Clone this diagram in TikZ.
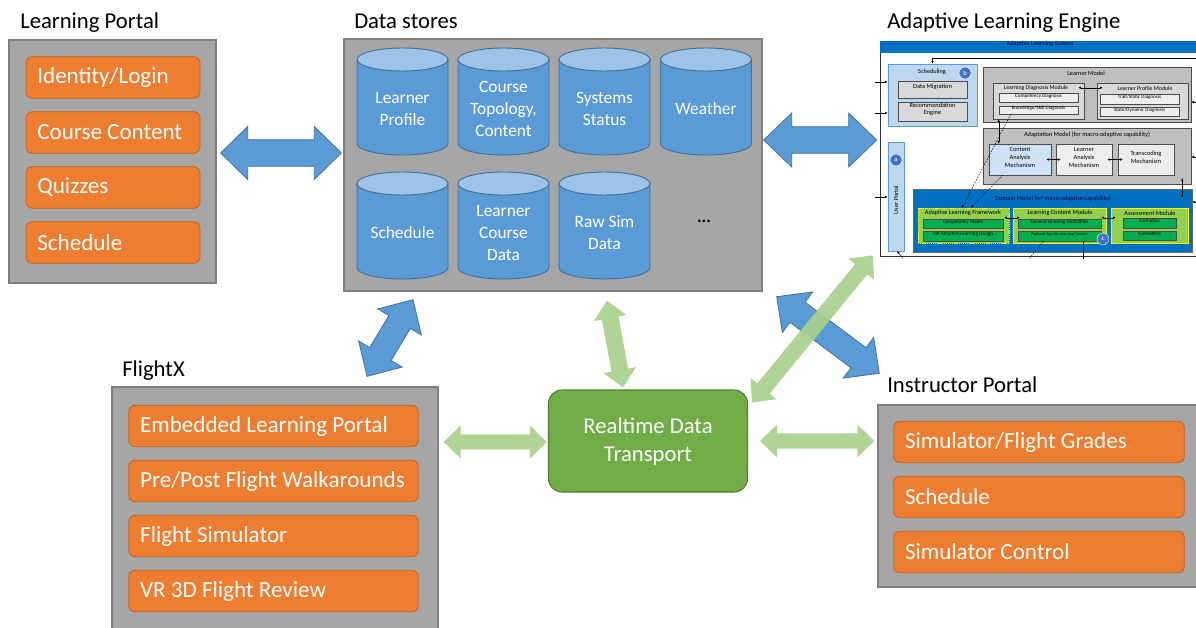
\documentclass[tikz,border=0pt]{standalone}
\usepackage{fontspec}
\setmainfont{Carlito}
\usetikzlibrary{calc,fit,arrows.meta,positioning}

\definecolor{panelgray}{RGB}{166,166,166}
\definecolor{paneledge}{RGB}{127,127,127}
\definecolor{itemorange}{RGB}{237,125,49}
\definecolor{itemedge}{RGB}{196,98,32}
\definecolor{dbblue}{RGB}{91,155,213}
\definecolor{dbedge}{RGB}{65,113,156}
\definecolor{dblight}{RGB}{157,195,230}
\definecolor{rtgreen}{RGB}{112,173,71}
\definecolor{rtedge}{RGB}{80,126,50}
\definecolor{linkgreen}{RGB}{169,209,142}
\definecolor{alsblue}{RGB}{0,112,192}
\definecolor{alslight}{RGB}{189,215,238}
\definecolor{alspale}{RGB}{205,227,245}
\definecolor{almgray}{RGB}{191,191,191}
\definecolor{almlight}{RGB}{217,217,217}
\definecolor{almwhite}{RGB}{237,237,237}
\definecolor{alfgreen}{RGB}{146,208,80}
\definecolor{alfdark}{RGB}{0,176,80}
\definecolor{alscircle}{RGB}{68,114,196}

\tikzset{
  boxsize/.style 2 args={minimum width=#1*0.75pt, minimum height=#2*0.75pt},
  panel/.style={draw=paneledge, fill=panelgray, line width=1pt, inner sep=0pt},
  heading/.style={anchor=base west, inner sep=0pt, font=\fontsize{17}{20}\selectfont},
  item/.style={draw=itemedge, fill=itemorange, line width=0.6pt, rounded corners=4.5pt,
    text=white, font=\fontsize{17.3}{20}\selectfont, align=flush left,
    inner xsep=8.5pt, inner ysep=0pt, minimum height=31pt, text width=#1},
  dbtext/.style={text=white, font=\fontsize{13}{16.5}\selectfont, align=center, inner sep=0pt},
  dbbody/.style={fill=dbblue, draw=dbedge, line width=0.7pt},
  dbtop/.style={fill=dblight, draw=dbedge, line width=0.7pt},
  hub/.style={draw=rtedge, fill=rtgreen, line width=0.8pt, rounded corners=10pt,
    text=white, font=\fontsize{17}{21}\selectfont, align=center, inner sep=0pt},
  bluelink/.style={fill=dbblue, draw=dbedge, line width=0.6pt},
  greenlink/.style={fill=linkgreen, draw=none, fill opacity=0.92},
  % tiny engine sketch
  alebox/.style={draw=black!70, line width=0.35pt, inner sep=0pt, align=center,
    font=\fontsize{4.8}{5.8}\selectfont},
  alesub/.style={alebox, font=\fontsize{3.8}{4.4}\selectfont},
  aletitle/.style={inner sep=0pt, font=\fontsize{4.7}{5.6}\selectfont},
  alemark/.style={circle, fill=alscircle, draw=white, line width=0.3pt, minimum size=9pt,
    inner sep=0pt, text=white, font=\fontsize{5}{6}\selectfont},
  aleline/.style={line width=0.35pt, black},
  alearr/.style={aleline, {Latex[length=2pt,width=1.8pt]}-{Latex[length=2pt,width=1.8pt]}},
  aletip/.style={aleline, -{Latex[length=2pt,width=1.8pt]}},
  aledash/.style={aletip, dash pattern=on 1.2pt off 1pt}
}

% wide two-headed arrow: style, tip, tip, shaft half width, head half width, head length
\newcommand{\fatarrow}[6]{%
  \filldraw[#1] (#2) -- ($(#2)!#6!(#3)!#5!90:(#3)$) -- ($(#2)!#6!(#3)!#4!90:(#3)$)
    -- ($(#3)!#6!(#2)!#4!-90:(#2)$) -- ($(#3)!#6!(#2)!#5!-90:(#2)$) -- (#3)
    -- ($(#3)!#6!(#2)!#5!90:(#2)$) -- ($(#3)!#6!(#2)!#4!90:(#2)$)
    -- ($(#2)!#6!(#3)!#4!-90:(#3)$) -- ($(#2)!#6!(#3)!#5!-90:(#3)$) -- cycle;
}

% drum: name, centre x, top y, text
\newcommand{\dbstore}[4]{%
  \filldraw[dbbody] (#2-45.5,#3+11.5) -- (#2-45.5,#3+95.5)
    arc[start angle=180, end angle=0, x radius=45.5, y radius=11.5]
    -- (#2+45.5,#3+11.5) -- cycle;
  \filldraw[dbtop] (#2,#3+11.5) ellipse[x radius=45.5, y radius=11.5];
  \node[dbtext] (#1) at (#2,#3+61) {#4};
}

\begin{document}
\begin{tikzpicture}[x=0.75pt, y=-0.75pt]
  \useasboundingbox (0,0) rectangle (1196,628);
  \fill[white] (0,0) rectangle (1196,628);

  %panels
  \node[panel, boxsize={207}{243}] (lp) at (112.5,161.5) {};
  \node[panel, boxsize={418}{252}] (ds) at (553,165) {};
  \node[panel, boxsize={326}{253}] (fx) at (275,513.5) {};
  \node[panel, boxsize={322}{182}] (ip) at (1039,496) {};

  %headings
  \node[heading] (lp-title) at (20,28) {Learning Portal};
  \node[heading] (ds-title) at (354,28) {Data stores};
  \node[heading] (ale-title) at (887,28) {Adaptive Learning Engine};
  \node[heading] (fx-title) at (122,376) {FlightX};
  \node[heading] (ip-title) at (887,392) {Instructor Portal};

  %learning portal
  \node[item=113.5pt] (lp-login) at (113,77.5) {Identity/Login};
  \node[item=113.5pt] (lp-content) at (113,132.5) {Course Content};
  \node[item=113.5pt] (lp-quiz) at (113,187.5) {Quizzes};
  \node[item=113.5pt] (lp-sched) at (113,242.5) {Schedule};

  %data stores
  \dbstore{ds-profile}{402.5}{48}{Learner\\Profile}
  \dbstore{ds-topology}{503.5}{48}{Course\\Topology,\\Content}
  \dbstore{ds-status}{604.5}{48}{Systems\\Status}
  \dbstore{ds-weather}{706}{48}{Weather}
  \dbstore{ds-schedule}{402.5}{172}{Schedule}
  \dbstore{ds-coursedata}{503.5}{172}{Learner\\Course\\Data}
  \dbstore{ds-rawsim}{604.5}{172}{Raw Sim\\Data}
  \node[inner sep=0pt, font=\fontsize{13}{15}\selectfont\bfseries] (ds-more) at (704,221) {...};

  %flightx
  \node[item=200pt] (fx-portal) at (273.5,426) {Embedded Learning Portal};
  \node[item=200pt] (fx-walk) at (273.5,481) {Pre/Post Flight Walkarounds};
  \node[item=200pt] (fx-sim) at (273.5,536) {Flight Simulator};
  \node[item=200pt] (fx-vr) at (273.5,591) {VR 3D Flight Review};

  %instructor portal
  \node[item=201pt] (ip-grades) at (1039,442) {Simulator/Flight Grades};
  \node[item=201pt] (ip-sched) at (1039,497) {Schedule};
  \node[item=201pt] (ip-ctrl) at (1039,552) {Simulator Control};

  %realtime hub
  \node[hub, boxsize={199}{102}] (rt) at (648,441) {Realtime Data\\Transport};

  %adaptive learning engine
  \node[fill=white, draw=black!80, line width=0.5pt, inner sep=0pt, fit={(880,41) (1200,256)}] (ale) {};
  \node[alebox, fill=alsblue, draw=alsblue, text=black!75!blue, fit={(880,41) (1200,52)}] (als) {Adaptive Learning System};

  \node[alebox, fill=alslight, draw=dbblue, fit={(888,64) (977,126)}] (sched) {};
  \node[aletitle] (sched-title) at (932,72) {Scheduling};
  \node[alemark] (mark-b) at (965,73) {b};
  \node[alebox, fill=almlight, fit={(898,81) (967,98)}] (migr) {Data Migration};
  \node[alebox, fill=almlight, fit={(898,102) (967,121)}] (recom) {Recommendation\\Engine};

  \node[alebox, fill=almgray, fit={(983,67) (1191,122)}] (lm) {};
  \node[aletitle] (lm-title) at (1086,73) {Learner Model};
  \node[alebox, fill=almlight, fit={(993,83) (1084,119)}] (ldm) {};
  \node[aletitle, font=\fontsize{4.4}{5}\selectfont] (ldm-title) at (1036,88) {Learning Diagnosis Module};
  \node[alesub, fill=almwhite, fit={(999,93) (1078,102)}] (cd) {Competency Diagnosis};
  \node[alesub, fill=almwhite, fit={(999,106) (1078,114)}] (ksd) {Knowledge/Skill Diagnosis};
  \node[alebox, fill=almlight, fit={(1097,83) (1188,119)}] (lpm) {};
  \node[aletitle, font=\fontsize{4.4}{5}\selectfont] (lpm-title) at (1145,88) {Learner Profile Module};
  \node[alesub, fill=almwhite, fit={(1100,94) (1179,104)}] (tsd) {Trait/Static Diagnosis};
  \node[alesub, fill=almwhite, fit={(1100,107) (1179,116)}] (sdd) {State/Dynamic Diagnosis};

  \node[alebox, fill=almgray, fit={(983,128) (1191,184)}] (adm) {};
  \node[aletitle] (adm-title) at (1087,135) {Adaptation Model (for macro-adaptive capability)};
  \node[alebox, fill=alspale, fit={(989,144) (1051,175)}] (cam) {Content\\Analysis\\Mechanism};
  \node[alebox, fill=almwhite, fit={(1056,144) (1112,175)}] (lam) {Learner\\Analysis\\Mechanism};
  \node[alebox, fill=almwhite, fit={(1118,144) (1174,175)}] (tm) {Transcoding\\Mechanism};

  \node[alebox, fill=alslight, draw=dbblue, fit={(888,142) (904,251)}] (up) {};
  \node[alemark] (mark-a) at (896,160) {a};
  \node[aletitle, rotate=90] (up-title) at (896,200) {User Portal};

  \node[alebox, fill=alsblue, draw=black!60, fit={(913,189) (1192,252)}] (dm) {};
  \node[aletitle, text=black!75!blue] (dm-title) at (1053,199) {Domain Model (w/ micro-adaptive capability)};
  \node[alebox, fill=alfgreen, draw=yellow, dash pattern=on 1pt off 0.6pt, fit={(918,208) (1009,243)}] (alf) {};
  \node[aletitle] (alf-title) at (963,213) {Adaptive Learning Framework};
  \node[alesub, fill=alfdark, fit={(923,219) (1003,228)}] (cm) {Competency Model};
  \node[alesub, fill=alfdark, fit={(923,231) (1003,241)}] (cbi) {CBI Adaptive Learning Design};
  \node[alebox, fill=alfgreen, draw=yellow, fit={(1013,208) (1106,243)}] (lcm) {};
  \node[aletitle] (lcm-title) at (1060,213) {Learning Content Module};
  \node[alesub, fill=alfdark, fit={(1018,219) (1101,228)}] (glm) {General Learning Modalities};
  \node[alesub, fill=alfdark, font=\fontsize{3}{3.5}\selectfont, fit={(1018,231) (1101,241)}] (pslc) {Platform-Specific Learning Content};
  \node[alemark] (mark-c) at (1103,239) {c};
  \node[alebox, fill=alfgreen, draw=yellow, fit={(1111,208) (1188,243)}] (am) {};
  \node[aletitle] (am-title) at (1150,213) {Assessment Module};
  \node[alesub, fill=alfdark, fit={(1123,218) (1176,228)}] (form) {Formative};
  \node[alesub, fill=alfdark, fit={(1123,231) (1176,240)}] (summ) {Summative};

  %engine links
  \draw[aletip] ($(ale.north east)+(0,18)$) -| (sched.north);
  \draw[aletip] ($(sched.west)+(-13,-13)$) -- ($(sched.west)+(0,-13)$);
  \draw[aletip] ($(sched.west)+(-13,18)$) -- ($(sched.west)+(0,18)$);
  \draw[aletip] ($(up.west)+(-13,0.5)$) -- ($(up.west)+(0,0.5)$);
  \draw[aletip] ($(lm.east)+(7,7.5)$) -- ($(lm.east)+(0,7.5)$);
  \draw[aletip] ($(adm.east)+(7,1)$) -- ($(adm.east)+(0,1)$);
  \draw[aletip] ($(dm.east)+(6,-18.5)$) -- ($(dm.east)+(0,-18.5)$);
  \draw[alearr] ($(ldm.north east)+(-6,5)$) -- ($(lpm.north west)+(6,5)$);
  \draw[alearr] ($(ldm.south west)+(6,0)$) -- ($(cam.north west)+(10,0)$);
  \draw[alearr] ($(cam.east)+(-5,0)$) -- ($(lam.west)+(5,0)$);
  \draw[alearr] ($(lam.east)+(-5,0)$) -- ($(tm.west)+(5,0)$);
  \draw[alearr] ($(adm.south east)+(-9,-6)$) -- ($(dm.north east)+(-10,9)$);
  \draw[alearr] ($(alf.north east)+(-5,10)$) -- ($(lcm.north west)+(7,10)$);
  \draw[alearr] ($(lcm.north east)+(-5,10)$) -- ($(am.north west)+(5,10)$);
  \draw[aledash] ($(ksd.south west)+(12,0)$) -- ($(alf.north west)+(44,0)$);
  \draw[aledash] ($(cam.south west)+(14,0)$) -- ($(alf.north west)+(53,0)$);
  \draw[aleline] ($(pslc.south)+(24,0)$) -- ++(0,18);
  \draw[aleline, dash pattern=on 1.2pt off 1pt] ($(pslc.south)+(-16,0)$) -- ++(-14,17);
  \draw[aleline, {Latex[length=2pt,width=1.8pt]}-] ($(up.south)+(1,0)$) -- ++(6,7);

  %link ends
  \coordinate (lpds-a) at ($(lp.east)+(4,-8.5)$);
  \coordinate (lpds-b) at ($(ds.west)+(-2,-12)$);
  \coordinate (dsale-a) at ($(ds.east)+(1,-25)$);
  \coordinate (dsale-b) at ($(ale.west)+(-3,-8.5)$);
  \coordinate (dsfx-a) at ($(ds.south)+(-140,8)$);
  \coordinate (dsfx-b) at ($(fx.north)+(92,-10)$);
  \coordinate (dsip-a) at ($(ds.south east)+(14,5)$);
  \coordinate (dsip-b) at ($(ip.north west)+(2,-31)$);
  \coordinate (fxrt-a) at ($(fx.east |- rt.west)+(5,1)$);
  \coordinate (fxrt-b) at ($(rt.west)+(-1,1)$);
  \coordinate (dsrt-a) at ($(ds.south)+(54,9)$);
  \coordinate (dsrt-b) at ($(rt.north)+(-25,-2)$);
  \coordinate (rtip-a) at ($(rt.east)+(12,0)$);
  \coordinate (rtip-b) at ($(ip.west |- rt.east)+(-3,0)$);
  \coordinate (rtale-a) at ($(rt.north east)+(4,13)$);
  \coordinate (rtale-b) at ($(ale.south west)+(-7,-1)$);

  %data links
  \fatarrow{bluelink}{lpds-a}{lpds-b}{10pt}{19.9pt}{20.3pt}
  \fatarrow{bluelink}{dsale-a}{dsale-b}{10pt}{20.2pt}{21pt}
  \fatarrow{bluelink}{dsfx-a}{dsfx-b}{9.4pt}{19pt}{19.5pt}
  \fatarrow{bluelink}{dsip-a}{dsip-b}{9.4pt}{19pt}{19.5pt}

  %realtime links
  \fatarrow{greenlink}{fxrt-a}{fxrt-b}{5.8pt}{12.4pt}{12.8pt}
  \fatarrow{greenlink}{dsrt-a}{dsrt-b}{6.3pt}{12.4pt}{13.2pt}
  \fatarrow{greenlink}{rtip-a}{rtip-b}{5.8pt}{12.4pt}{12.8pt}
  \fatarrow{greenlink}{rtale-a}{rtale-b}{6pt}{12.6pt}{13.5pt}
\end{tikzpicture}
\end{document}
